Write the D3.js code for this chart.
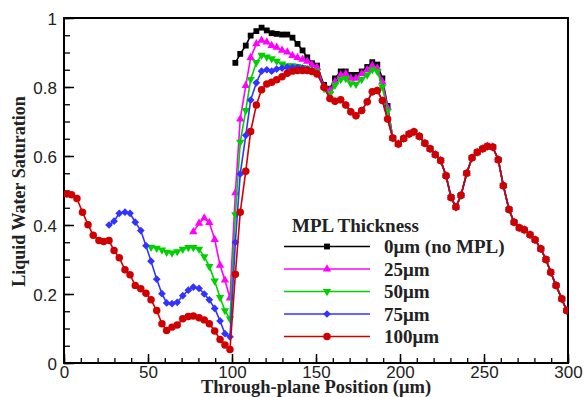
<!DOCTYPE html>
<html>
<head>
<meta charset="utf-8">
<script src="https://cdn.jsdelivr.net/npm/d3@7"></script>
<style>
  html, body { margin: 0; padding: 0; background: #fff; }
  svg { display: block; }
  .tick text { font-family: "Liberation Sans", Arial, sans-serif; font-size: 17px; fill: #222; }
  .title { font-family: "Liberation Serif", "Times New Roman", serif; font-weight: bold; fill: #222; }
</style>
</head>
<body>
<svg id="chart" width="584" height="397"></svg>
<script>
// through-plane positions (um), shared by all series
var positions = [1.6, 4.5, 7.7, 11.0, 14.3, 17.4, 20.8, 23.6, 26.8, 29.8,
  32.9, 36.3, 39.3, 42.4, 45.7, 48.8, 51.8, 55.2, 58.3, 61.1,
  64.3, 67.4, 70.7, 74.0, 77.0, 80.4, 83.5, 86.5, 89.7, 92.9,
  95.8, 98.8, 102.0, 104.9, 108.2, 111.1, 114.5, 117.6, 120.7, 123.6,
  126.6, 129.8, 132.9, 136.0, 139.0, 142.0, 144.8, 147.6, 150.6, 154.8,
  158.3, 161.3, 164.7, 167.7, 170.7, 173.8, 177.2, 180.5, 183.5, 186.5,
  189.5, 192.6, 195.7, 199.0, 202.2, 205.4, 208.3, 211.5, 214.8, 217.9,
  221.0, 224.2, 227.4, 230.4, 233.3, 236.3, 239.7, 242.9, 246.0, 249.2,
  252.0, 255.2, 258.5, 261.5, 264.9, 267.9, 271.0, 274.0, 277.4, 280.4,
  283.8, 286.9, 289.7, 292.9, 296.3, 299.2]

// saturation values for the first 62 positions (null = not measured)
var mpl0 = [null, null, null, null, null, null, null, null, null, null,
  null, null, null, null, null, null, null, null, null, null,
  null, null, null, null, null, null, null, null, null, null,
  null, null,
  0.870, 0.896, 0.920, 0.949, 0.962, 0.972, 0.964, 0.956, 0.954, 0.952,
  0.952, 0.943, 0.925, 0.906, 0.886, 0.869, 0.862,
  0.806, 0.795, 0.825, 0.845, 0.845, 0.835, 0.835, 0.845, 0.858, 0.872,
  0.865, 0.825, 0.745]

var mpl25 = [null, null, null, null, null, null, null, null, null, null,
  null, null, null, null, null, null, null, null, null, null,
  null, null, null, null,
  0.380, 0.405, 0.420, 0.407, 0.358, 0.283, 0.240, 0.188,
  0.493, 0.707, 0.804, 0.885, 0.925, 0.935, 0.930, 0.920, 0.915, 0.906,
  0.901, 0.891, 0.885, 0.880, 0.874, 0.864, 0.857,
  0.800, 0.790, 0.815, 0.835, 0.838, 0.825, 0.825, 0.838, 0.850, 0.862,
  0.855, 0.815, 0.740]

var mpl50 = [null, null, null, null, null, null, null, null, null, null,
  null, null, null, null, null, null,
  0.336, 0.333, 0.328, 0.321, 0.319, 0.323, 0.330, 0.335, 0.335, 0.330,
  0.308, 0.280, 0.238, 0.190, 0.152, 0.128,
  0.430, 0.640, 0.732, 0.822, 0.871, 0.892, 0.887, 0.882, 0.875, 0.867,
  0.862, 0.862, 0.860, 0.857, 0.854, 0.848, 0.845,
  0.795, 0.780, 0.805, 0.822, 0.825, 0.810, 0.808, 0.822, 0.835, 0.850,
  0.845, 0.800, 0.730]

var mpl75 = [null, null, null, null, null, null, null, null,
  0.400, 0.411, 0.434, 0.437, 0.434, 0.408, 0.384, 0.340, 0.295, 0.243,
  0.201, 0.174, 0.172, 0.176, 0.195, 0.211, 0.220, 0.216, 0.200, 0.183,
  0.158, 0.122, 0.085, 0.076,
  0.350, 0.548, 0.660, 0.762, 0.812, 0.846, 0.850, 0.846, 0.852, 0.855,
  0.857, 0.857, 0.857, 0.855, 0.852, 0.848, 0.840,
  0.799, 0.767, 0.759, 0.763, 0.748, 0.728, 0.717, 0.732, 0.757, 0.786,
  0.790, 0.761, 0.707]

var mpl100 = [0.490, 0.488, 0.477, 0.437, 0.401, 0.370, 0.355, 0.352, 0.355, 0.326,
  0.305, 0.270, 0.256, 0.225, 0.215, 0.202, 0.183, 0.152, 0.114, 0.094,
  0.104, 0.110, 0.128, 0.135, 0.136, 0.131, 0.125, 0.114, 0.093, 0.068,
  0.052, 0.039, 0.257, 0.437, 0.556, 0.671, 0.748, 0.792, 0.809, 0.814,
  0.821, 0.830, 0.840, 0.846, 0.848, 0.848, 0.848, 0.845, 0.838, 0.799,
  0.767, 0.759, 0.763, 0.748, 0.728, 0.717, 0.732, 0.757, 0.786, 0.790,
  0.761, 0.707]

// past ~195 um all five curves coincide
var mergedTail = [0.652, 0.635, 0.651, 0.664, 0.670, 0.657, 0.637, 0.621, 0.604, 0.587,
  0.543, 0.480, 0.452, 0.486, 0.550, 0.595, 0.611, 0.621, 0.628, 0.626,
  0.589, 0.514, 0.445, 0.408, 0.392, 0.386, 0.372, 0.357, 0.331, 0.300,
  0.263, 0.225, 0.186, 0.152]

var seriesNames = ["0\u03bcm (no MPL)", "25\u03bcm", "50\u03bcm", "75\u03bcm", "100\u03bcm"]
var xTicks = [0, 50, 100, 150, 200, 250, 300]
var yTicks = [0, 0.2, 0.4, 0.6, 0.8, 1]

var colors = ["#000000", "#ff00ff", "#00d000", "#3333ff", "#d00000"]
var symbols = [
  { type: d3.symbolSquare, size: 34, rotate: 0 },
  { type: d3.symbolTriangle, size: 30, rotate: 0 },
  { type: d3.symbolTriangle, size: 30, rotate: 180 },
  { type: d3.symbolSquare, size: 30, rotate: 45 },
  { type: d3.symbolCircle, size: 44, rotate: 0 }
]

var heads = [mpl0, mpl25, mpl50, mpl75, mpl100]
var series = heads.map(function (h, k) {
  var vals = h.concat(mergedTail)
  return {
    name: seriesNames[k],
    points: positions.map(function (p, i) { return { x: p, y: vals[i] } })
      .filter(function (d) { return d.y != null })
  }
})

var margin = { top: 18, right: 16, bottom: 34, left: 64 }
var W = 584, H = 397
var width = W - margin.left - margin.right
var height = H - margin.top - margin.bottom

var svg = d3.select("#chart")
var g = svg.append("g").attr("transform", "translate(" + margin.left + "," + margin.top + ")")

var x = d3.scaleLinear().domain([0, 300]).range([0, width])
var y = d3.scaleLinear().domain([0, 1]).range([height, 0])

g.append("clipPath").attr("id", "clip")
  .append("rect").attr("width", width).attr("height", height)

// minor ticks
g.append("g")
  .attr("transform", "translate(0," + height + ")")
  .call(d3.axisBottom(x).tickValues(d3.range(0, 301, 10)).tickSize(-5).tickFormat(""))
  .call(function (a) { a.select(".domain").remove() })
  .selectAll("line").attr("stroke", "#000").attr("stroke-width", 1.3)
g.append("g")
  .call(d3.axisLeft(y).tickValues(d3.range(0, 1.001, 0.05)).tickSize(-6).tickFormat(""))
  .call(function (a) { a.select(".domain").remove() })
  .selectAll("line").attr("stroke", "#000").attr("stroke-width", 1.3)

// major ticks + labels
var xAxis = g.append("g")
  .attr("transform", "translate(0," + height + ")")
  .call(d3.axisBottom(x).tickValues(xTicks).tickSize(-9).tickPadding(3).tickFormat(d3.format("d")))
xAxis.select(".domain").remove()
xAxis.selectAll("line").attr("stroke", "#000").attr("stroke-width", 1.5)

var yAxis = g.append("g")
  .call(d3.axisLeft(y).tickValues(yTicks).tickSize(-10).tickPadding(7).tickFormat(function (d) { return d === 0 || d === 1 ? d : d.toFixed(1) }))
yAxis.select(".domain").remove()
yAxis.selectAll("line").attr("stroke", "#000").attr("stroke-width", 1.5)
yAxis.selectAll("text").attr("dy", "0.36em")

// frame
g.append("rect")
  .attr("width", width).attr("height", height)
  .attr("fill", "none").attr("stroke", "#000").attr("stroke-width", 2)

var line = d3.line()
  .x(function (d) { return x(d.x) })
  .y(function (d) { return y(d.y) })

var plot = g.append("g").attr("clip-path", "url(#clip)")

series.forEach(function (s, k) {
  var sg = plot.append("g")
  sg.append("path")
    .datum(s.points)
    .attr("fill", "none")
    .attr("stroke", colors[k])
    .attr("stroke-width", 1.6)
    .attr("d", line)
  sg.selectAll("path.mk")
    .data(s.points)
    .enter().append("path")
    .attr("class", "mk")
    .attr("d", d3.symbol().type(symbols[k].type).size(symbols[k].size))
    .attr("fill", colors[k])
    .attr("transform", function (d) {
      return "translate(" + x(d.x) + "," + y(d.y) + ") rotate(" + symbols[k].rotate + ")"
    })
})

// legend
var lg = svg.append("g").attr("transform", "translate(284,226)")
lg.append("text")
  .attr("class", "title")
  .attr("x", 8).attr("y", 6)
  .style("font-size", "19px")
  .text("MPL Thickness")
series.forEach(function (s, k) {
  var yy = 20.5 + k * 22.5
  lg.append("line")
    .attr("x1", 0).attr("x2", 86).attr("y1", yy).attr("y2", yy)
    .attr("stroke", colors[k]).attr("stroke-width", 1.6)
  lg.append("path")
    .attr("d", d3.symbol().type(symbols[k].type).size(symbols[k].size))
    .attr("fill", colors[k])
    .attr("transform", "translate(43," + yy + ") rotate(" + symbols[k].rotate + ")")
  lg.append("text")
    .attr("class", "title")
    .attr("x", 100).attr("y", yy + 6.5)
    .style("font-size", "19px")
    .text(s.name)
})

// axis titles
svg.append("text")
  .attr("class", "title")
  .attr("x", margin.left + width / 2).attr("y", 393)
  .attr("text-anchor", "middle")
  .style("font-size", "18.5px")
  .text("Through-plane Position (\u03bcm)")

svg.append("text")
  .attr("class", "title")
  .attr("transform", "translate(25," + (margin.top + height / 2 + 1) + ") rotate(-90)")
  .attr("text-anchor", "middle")
  .style("font-size", "18px")
  .text("Liquid Water Saturation")
</script>
</body>
</html>
